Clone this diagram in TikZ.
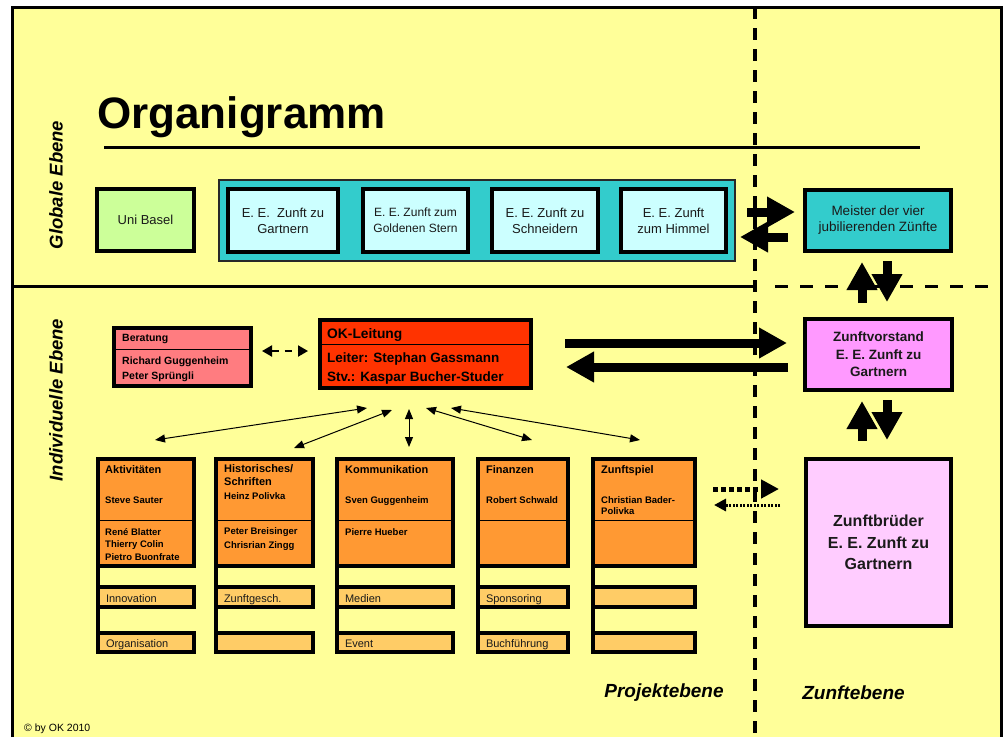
\documentclass[tikz,border=0pt]{standalone}
\usepackage{fontspec}
\setmainfont{Liberation Sans}
\usetikzlibrary{arrows.meta,calc}

\tikzset{
  bx/.style={draw, line width=4pt, inner sep=0pt, outer sep=0pt, align=center, text={rgb,255:red,26;green,26;blue,26}},
  lvl/.style={inner sep=0pt, font=\fontsize{18.5}{22}\selectfont\bfseries\itshape},
  hd/.style={inner sep=0pt, align=left, font=\fontsize{11}{13}\selectfont\bfseries},
  hdone/.style={hd, text height=8pt, text depth=2.3pt},
  nm/.style={inner sep=0pt, align=left, font=\fontsize{9.5}{#1}\selectfont\bfseries},
  nm/.default=13,
  nmone/.style={nm, text height=7pt, text depth=2pt},
  orng/.style={bx, fill={rgb,255:red,255;green,153;blue,51}, minimum height=107},
  subbx/.style={bx, fill={rgb,255:red,255;green,204;blue,102}, inner xsep=8pt, align=left, text height=10.5pt, text depth=0pt, font=\fontsize{11}{13}\selectfont},
  gbox/.style={bx, fill={rgb,255:red,204;green,255;blue,255}, minimum height=63},
  fat/.style={line width=9pt, -{Triangle[length=28pt,width=29pt]}},
  thn/.style={line width=1pt, {Triangle[length=10pt,width=8pt]}-{Triangle[length=10pt,width=8pt]}},
}

\begin{document}
\begin{tikzpicture}[x=1pt,y=1pt,yscale=-1,xscale=1]
\useasboundingbox (0,0) rectangle (1008,737);

%Shape: Rectangle [background]
\fill [color={rgb, 255:red, 255; green, 255; blue, 153 }] (12,7) rectangle (1001,737);
\draw [line width=3pt] (12,737) -- (12,7) -- (1001,7) -- (1001,737);

%Straight Lines
\draw [line width=3pt] (12,286) -- (755,286);
\draw [line width=3pt, dash pattern=on 13pt off 12pt] (775,286) -- (1001,286);
\draw [line width=4pt, dash pattern=on 12pt off 9pt] (755,7) -- (755,737);
\draw [line width=3pt] (104,147) -- (920,147);

% Text Node
\draw (97,128) node [anchor=base west][inner sep=0pt][font=\fontsize{44}{50}\selectfont\bfseries] (ttl) {Organigramm};
% Text Node
\draw (56,185) node [rotate=90][lvl] (glob) {Globale Ebene};
% Text Node
\draw (56,400) node [rotate=90][lvl] (indiv) {Individuelle Ebene};

%Shape: Rectangle [globale Ebene]
\node [bx, fill={rgb,255:red,204;green,255;blue,153}, minimum width=97, minimum height=62, font=\fontsize{13}{16}\selectfont] (uni) at (145.5,220) {Uni Basel};
\node [draw={rgb,255:red,40;green,40;blue,40}, line width=2pt, fill={rgb,255:red,51;green,204;blue,204}, minimum width=516, minimum height=81, inner sep=0pt, outer sep=0pt] (zuenfte) at (477,220.5) {};
\node [gbox, minimum width=110, font=\fontsize{13}{16}\selectfont] (gart) at (283,220.5) {E. E.\ \ Zunft zu\\Gartnern};
\node [gbox, minimum width=105, font=\fontsize{12}{16}\selectfont] (stern) at (415.5,220.5) {E. E. Zunft zum\\Goldenen Stern};
\node [gbox, minimum width=106, font=\fontsize{13}{16}\selectfont] (schn) at (545,220.5) {E. E. Zunft zu\\Schneidern};
\node [gbox, minimum width=105, font=\fontsize{13}{16}\selectfont] (himm) at (673.5,220.5) {E. E. Zunft\\zum Himmel};
\node [bx, fill={rgb,255:red,51;green,204;blue,204}, minimum width=146, minimum height=61, font=\fontsize{13.5}{16}\selectfont] (meister) at (878,220.5) {Meister der vier\\jubilierenden Zünfte};

%Shape: Rectangle [Zunftebene]
\node [bx, fill={rgb,255:red,255;green,153;blue,255}, minimum width=147, minimum height=71, font=\fontsize{13.5}{17.5}\selectfont\bfseries] (zv) at (878.5,354.5) {Zunftvorstand\\E. E. Zunft zu\\Gartnern};
\node [bx, fill={rgb,255:red,255;green,204;blue,255}, minimum width=145, minimum height=167, font=\fontsize{16}{21.5}\selectfont\bfseries] (zb) at (878.5,542.5) {Zunftbrüder\\E. E. Zunft zu\\Gartnern};

%Shape: Rectangle [OK und Beratung]
\node [bx, fill={rgb,255:red,255;green,124;blue,128}, minimum width=137, minimum height=58] (ber) at (182.5,357) {};
\draw [line width=1pt] ($(ber.west)+(0,-8)$) -- ($(ber.east)+(0,-8)$);
\node [bx, fill={rgb,255:red,255;green,51;blue,0}, minimum width=211, minimum height=68] (ok) at (425.5,354) {};
\draw [line width=1pt] ($(ok.west)+(0,-10)$) -- ($(ok.east)+(0,-10)$);
% Text Node
\draw (122,339) node [anchor=west][inner sep=0pt][text height=8pt, text depth=2.3pt][font=\fontsize{10.5}{15}\selectfont\bfseries] (tBer) {Beratung};
\draw (122,369.5) node [anchor=west][inner sep=0pt][align=left][font=\fontsize{10.5}{15}\selectfont\bfseries] (tBerN) {Richard Guggenheim\\Peter Sprüngli};
\draw (327,334.5) node [anchor=west][inner sep=0pt][text height=10pt, text depth=3pt][font=\fontsize{13.8}{19}\selectfont\bfseries] (tOK) {OK-Leitung};
\draw (327,368.5) node [anchor=west][inner sep=0pt][align=left][font=\fontsize{13.5}{19}\selectfont\bfseries] (tOKN) {Leiter: Stephan Gassmann\\Stv.: Kaspar Bucher-Studer};

%Shape: Rectangle [Projektebene]
\node [orng, minimum width=96] (akt) at (146,512.5) {};
\node [orng, minimum width=97] (hist) at (264.5,512.5) {};
\node [orng, minimum width=116] (komm) at (395,512.5) {};
\node [orng, minimum width=90] (fin) at (523,512.5) {};
\node [orng, minimum width=102] (spiel) at (644,512.5) {};
\draw [line width=1pt] ($(akt.west)+(0,7.5)$) -- ($(akt.east)+(0,7.5)$);
\draw [line width=1pt] ($(hist.west)+(0,7.5)$) -- ($(hist.east)+(0,7.5)$);
\draw [line width=1pt] ($(komm.west)+(0,7.5)$) -- ($(komm.east)+(0,7.5)$);
\draw [line width=1pt] ($(fin.west)+(0,7.5)$) -- ($(fin.east)+(0,7.5)$);
\draw [line width=1pt] ($(spiel.west)+(0,7.5)$) -- ($(spiel.east)+(0,7.5)$);

\node [subbx, text width=80, minimum height=20] (aktI) at (146,597) {Innovation};
\node [subbx, text width=80, minimum height=19] (aktO) at (146,642.5) {Organisation};
\node [subbx, text width=81, minimum height=20] (histI) at (264.5,597) {Zunftgesch.};
\node [subbx, text width=81, minimum height=19] (histO) at (264.5,642.5) {};
\node [subbx, text width=100, minimum height=20] (kommI) at (395,597) {Medien};
\node [subbx, text width=100, minimum height=19] (kommO) at (395,642.5) {Event};
\node [subbx, text width=74, minimum height=20] (finI) at (523,597) {Sponsoring};
\node [subbx, text width=74, minimum height=19] (finO) at (523,642.5) {Buchführung};
\node [subbx, text width=86, minimum height=20] (spielI) at (644,597) {};
\node [subbx, text width=86, minimum height=19] (spielO) at (644,642.5) {};
\draw [line width=4pt] (akt.south west) -- (aktO.north west);
\draw [line width=4pt] (hist.south west) -- (histO.north west);
\draw [line width=4pt] (komm.south west) -- (kommO.north west);
\draw [line width=4pt] (fin.south west) -- (finO.north west);
\draw [line width=4pt] (spiel.south west) -- (spielO.north west);

% Text Node
\draw (105,470.5) node [anchor=west][hdone] (tAkt) {Aktivitäten};
\draw (105,501) node [anchor=west][nmone] (tAktL) {Steve Sauter};
\draw (105,544.5) node [anchor=west][nm=12.5] (tAktM) {René Blatter\\Thierry Colin\\Pietro Buonfrate};
\draw (224,475.5) node [anchor=west][hd] (tHist) {Historisches/\\Schriften};
\draw (224,497) node [anchor=west][nmone] (tHistL) {Heinz Polivka};
\draw (224,539) node [anchor=west][nm=14] (tHistM) {Peter Breisinger\\Chrisrian Zingg};
\draw (345,470.5) node [anchor=west][hdone] (tKomm) {Kommunikation};
\draw (345,501) node [anchor=west][nmone] (tKommL) {Sven Guggenheim};
\draw (345,533) node [anchor=west][nmone] (tKommM) {Pierre Hueber};
\draw (486,470.5) node [anchor=west][hdone] (tFin) {Finanzen};
\draw (486,501) node [anchor=west][nmone] (tFinL) {Robert Schwald};
\draw (601,470.5) node [anchor=west][hdone] (tSpiel) {Zunftspiel};
\draw (601,505.5) node [anchor=west][nm=11.5] (tSpielL) {Christian Bader-\\Polivka};

%Straight Lines [Pfeile]
\draw [fat] ($(zuenfte.east)+(12,-8.5)$) -- ($(meister.west)+(-10,-8.5)$);
\draw [fat] ($(meister.west)+(-17,16.5)$) -- ($(zuenfte.east)+(5,16.5)$);
\draw [fat] ($(zv.north)+(-16.5,-16)$) -- ($(meister.south)+(-16,11)$);
\draw [fat] ($(meister.south)+(9,10)$) -- ($(zv.north)+(8.5,-17)$);
\draw [fat] ($(zb.north)+(-16.5,-18)$) -- ($(zv.south)+(-16.5,11)$);
\draw [fat] ($(zv.south)+(8.5,10)$) -- ($(zb.north)+(8.5,-19)$);
\draw [fat] ($(ok.east)+(34,-11)$) -- ($(zv.west)+(-18,-11.5)$);
\draw [fat] ($(zv.west)+(-17,12.5)$) -- ($(ok.east)+(35,13)$);
\draw [line width=2pt, dash pattern=on 7pt off 6pt, {Triangle[length=10pt,width=11pt]}-{Triangle[length=10pt,width=11pt]}] ($(ber.east)+(11,-6)$) -- ($(ok.west)+(-12,-3)$);
\draw [thn] ($(ok.south)+(-58.5,20)$) -- ($(akt.north)+(9,-19)$);
\draw [thn] ($(ok.south)+(-33.5,22)$) -- ($(hist.north)+(29.5,-11)$);
\draw [thn] ($(ok.south)+(-16.5,21)$) -- ($(komm.north)+(14,-12)$);
\draw [thn] ($(ok.south)+(0.5,20)$) -- ($(fin.north)+(9,-19)$);
\draw [thn] ($(ok.south)+(25.5,20)$) -- ($(spiel.north)+(-4,-19)$);
\draw [line width=5pt, dash pattern=on 5pt off 3pt, -{Triangle[length=18pt,width=18pt]}] ($(spiel.east)+(18,-23.5)$) -- ($(zb.west)+(-27,-53.5)$);
\draw [line width=3pt, dash pattern=on 2pt off 1.5pt, -{Triangle[length=12pt,width=12pt]}] ($(zb.west)+(-26,-37.5)$) -- ($(spiel.east)+(19,-7.5)$);

% Text Node
\draw (664,693) node [font=\fontsize{19}{22}\selectfont\bfseries\itshape][inner sep=0pt] (proj) {Projektebene};
\draw (853.5,693) node [font=\fontsize{19}{22}\selectfont\bfseries\itshape][inner sep=0pt] (zeb) {Zunftebene};
\draw (24,729) node [anchor=west][inner sep=0pt][font=\fontsize{10.5}{12}\selectfont] (copy) {© by OK 2010};

\end{tikzpicture}
\end{document}
